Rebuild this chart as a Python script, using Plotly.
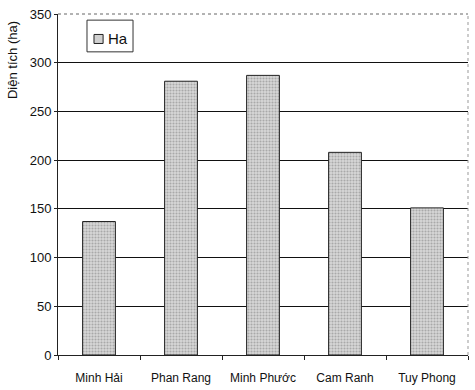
import plotly.graph_objects as go

categories = ["Minh Hải", "Phan Rang", "Minh Phước", "Cam Ranh", "Tuy Phong"]
values = [137, 281, 287, 208, 151]
series_name = "Ha"
y_title = "Diện tích (ha)"

font_family = "Liberation Sans, Arial, sans-serif"
bar_fill = "#d0d0d0"

fig = go.Figure()
fig.add_trace(go.Bar(
    x=categories, y=values, name=series_name,
    marker=dict(
        color=bar_fill,
        line=dict(color="#222222", width=1),
        pattern=dict(shape=".", fgcolor="#7a7a7a", bgcolor="#d8d8d8", size=3, solidity=0.4),
    ),
    showlegend=False,
))

# legend box drawn as shapes + text
shapes = [
    dict(type="rect", xref="paper", yref="paper", x0=0.0707, x1=0.183, y0=0.889, y1=0.982,
         line=dict(color="#333333", width=1), fillcolor="white"),
    dict(type="rect", xref="paper", yref="paper", x0=0.0878, x1=0.110, y0=0.9135, y1=0.94,
         line=dict(color="#222222", width=1), fillcolor=bar_fill),
    dict(type="line", xref="paper", yref="paper", x0=1, x1=1, y0=0, y1=1,
         line=dict(color="#999999", width=1, dash="dot")),
    dict(type="line", xref="paper", yref="paper", x0=0, x1=1, y0=1, y1=1,
         line=dict(color="#666666", width=1, dash="dot")),
]

annotations = [
    dict(text=series_name, xref="paper", yref="paper", x=0.117, y=0.9267,
         xanchor="left", yanchor="middle", showarrow=False,
         font=dict(size=15, family=font_family, color="#111111")),
    dict(text=y_title, xref="paper", yref="paper", x=0, y=0.865, xshift=-46,
         xanchor="center", yanchor="middle", textangle=-90, showarrow=False,
         font=dict(size=13, family=font_family, color="#111111")),
]

fig.update_layout(
    width=475, height=390,
    margin=dict(l=58, r=7, t=14, b=35, autoexpand=False),
    paper_bgcolor="white", plot_bgcolor="white",
    bargap=0.6,
    font=dict(family=font_family, size=12, color="#111111"),
    showlegend=False,
    xaxis=dict(
        showline=True, linecolor="#222222", linewidth=1,
        ticks="outside", tickson="boundaries", ticklen=4, tickcolor="#222222",
        showgrid=False, automargin=False,
        ticklabelstandoff=12,
        tickfont=dict(size=12),
    ),
    yaxis=dict(
        range=[0, 350], dtick=50,
        showline=True, linecolor="#222222", linewidth=1,
        ticks="outside", ticklen=3, tickcolor="#222222",
        showgrid=True, gridcolor="#111111", gridwidth=1,
        zeroline=False, automargin=False,
        ticklabeloverflow="allow",
        tickfont=dict(size=13),
    ),
    shapes=shapes,
    annotations=annotations,
)

fig.write_html("out.html", config={"displayModeBar": False},
               post_script="document.body.style.margin='0';")
